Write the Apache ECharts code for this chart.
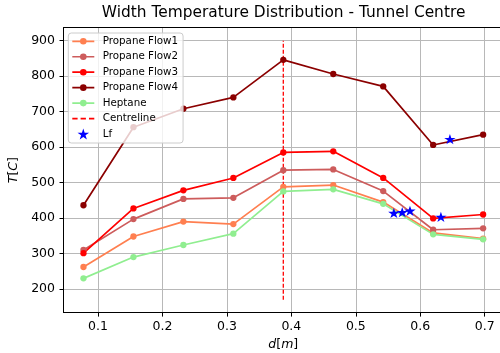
<!DOCTYPE html>
<html>
<head>
<meta charset="utf-8">
<script src="https://cdn.jsdelivr.net/npm/echarts@6/dist/echarts.min.js"></script>
<style>
  html, body { margin: 0; padding: 0; background: #fff; }
  #chart { width: 500px; height: 353px; }
</style>
</head>
<body>
<div id="chart"></div>
<script>
// Measurement positions across the tunnel width [m]
const distance = [0.0775, 0.155, 0.2325, 0.31, 0.3875, 0.465, 0.5425, 0.62, 0.6975];

// Temperatures [C] at each position
const propaneFlow1 = [262, 348, 390, 383, 488, 493, 445, 358, 342];
const propaneFlow2 = [310, 397, 454, 457, 535, 537, 476, 367, 371];
const propaneFlow3 = [301, 427, 478, 513, 585, 588, 513, 399, 410];
const propaneFlow4 = [436, 656, 708, 740, 846, 806, 771, 606, 635];
const heptane      = [230, 290, 324, 356, 475, 481, 440, 354, 340];

// Centreline of the tunnel and its drawn extent
const centreX = 0.3875;
const centreRange = [170, 900];

// Flame length (Lf) positions
const lfX = [0.559, 0.572, 0.584, 0.632, 0.646];
const lfY = [413, 415, 419, 402, 621];

// Tick labels
const xTicks = [0.1, 0.2, 0.3, 0.4, 0.5, 0.6, 0.7];
const yTicks = [200, 300, 400, 500, 600, 700, 800, 900];

const FONT = 'DejaVu Sans';

// Five-pointed star shape for the Lf markers
function starPath() {
  let d = '';
  for (let i = 0; i < 10; i++) {
    const r = i % 2 === 0 ? 10 : 3.8197;
    const a = -Math.PI / 2 + i * Math.PI / 5;
    d += (i ? 'L' : 'M') + (r * Math.cos(a)).toFixed(3) + ',' + (r * Math.sin(a)).toFixed(3) + ' ';
  }
  return 'path://' + d + 'Z';
}
const STAR = starPath();
const LINE_MARKER_ICON = 'path://M0,2.45h22v1.7h-22z M11,0a3.3,3.3 0 1,1 0,6.6a3.3,3.3 0 1,1 0,-6.6z';
const DASH_ICON = 'path://M0,0h5.3v1.7h-5.3z M8.3,0h5.3v1.7h-5.3z M16.7,0h5.3v1.7h-5.3z';

function pairs(xs, ys) { return xs.map((x, i) => [x, ys[i]]); }

function lineSeries(name, values, color) {
  return {
    name, type: 'line', data: pairs(distance, values),
    symbol: 'circle', symbolSize: 6.3, showSymbol: true,
    itemStyle: { color: color, borderWidth: 0 },
    lineStyle: { color: color, width: 1.7 },
    emphasis: { disabled: true }, silent: true, animation: false
  };
}

const chart = echarts.init(document.getElementById('chart'), null, { renderer: 'canvas' });

const axisCommon = {
  axisLine: { show: true, lineStyle: { color: '#000', width: 1 } },
  axisTick: { show: true, inside: false, length: 4, lineStyle: { color: '#000', width: 1 } },
  splitLine: { show: true, lineStyle: { color: '#b8b8b8', width: 1 } }
};

chart.setOption({
  animation: false,
  backgroundColor: '#fff',
  grid: { left: 63.5, top: 27.7, width: 439.6, height: 284.9, containLabel: false, outerBoundsMode: 'none' },
  graphic: [{
    type: 'text', x: 283.6, y: 13, silent: true,
    style: { text: 'Width Temperature Distribution - Tunnel Centre', fontFamily: FONT, fontSize: 15.4,
             fill: '#000', align: 'center', verticalAlign: 'middle' }
  }],
  xAxis: [{
    type: 'value', min: 0.0465, max: 0.7285, position: 'bottom',
    ...axisCommon,
    axisTick: { ...axisCommon.axisTick, customValues: xTicks },
    axisLabel: { customValues: xTicks, formatter: v => v.toFixed(1), color: '#000', fontFamily: FONT, fontSize: 12.5, margin: 8 },
    name: '{i|d}{n|[}{i|m}{n|]}', nameLocation: 'middle', nameGap: 23,
    nameTextStyle: {
      rich: {
        i: { fontFamily: FONT, fontStyle: 'italic', fontSize: 12.5, color: '#000' },
        n: { fontFamily: FONT, fontSize: 12.5, color: '#000' }
      }
    }
  }, {
    type: 'value', min: 0.0465, max: 0.7285, position: 'top',
    axisLine: { show: true, onZero: false, lineStyle: { color: '#000', width: 1 } },
    axisTick: { show: false }, axisLabel: { show: false }, splitLine: { show: false }
  }],
  yAxis: {
    type: 'value', min: 133.5, max: 936.5,
    ...axisCommon,
    axisTick: { ...axisCommon.axisTick, customValues: yTicks },
    axisLabel: { customValues: yTicks, color: '#000', fontFamily: FONT, fontSize: 12.5, margin: 8.5 },
    name: '{i|T}{n|[}{i|C}{n|]}', nameLocation: 'middle', nameGap: 41, nameRotate: 90,
    nameTextStyle: {
      rich: {
        i: { fontFamily: FONT, fontStyle: 'italic', fontSize: 12.5, color: '#000' },
        n: { fontFamily: FONT, fontSize: 12.5, color: '#000' }
      }
    }
  },
  legend: {
    orient: 'vertical', left: 68.3, top: 33,
    padding: [2.3, 5, 3, 4],
    itemWidth: 22, itemHeight: 11, itemGap: 3.45,
    selectedMode: false,
    backgroundColor: 'rgba(255,255,255,0.8)',
    borderColor: '#cccccc', borderWidth: 1, borderRadius: 3,
    itemStyle: { borderWidth: 0 },
    textStyle: { fontFamily: FONT, fontSize: 10.3, lineHeight: 12, color: '#000', padding: [0, 0, 0, 3.4] },
    data: [
      { name: 'Propane Flow1', icon: LINE_MARKER_ICON },
      { name: 'Propane Flow2', icon: LINE_MARKER_ICON },
      { name: 'Propane Flow3', icon: LINE_MARKER_ICON },
      { name: 'Propane Flow4', icon: LINE_MARKER_ICON },
      { name: 'Heptane', icon: LINE_MARKER_ICON },
      { name: 'Centreline', icon: DASH_ICON },
      { name: 'Lf', icon: STAR }
    ]
  },
  series: [
    lineSeries('Propane Flow1', propaneFlow1, '#ff7f50'),
    lineSeries('Propane Flow2', propaneFlow2, '#cd5c5c'),
    lineSeries('Propane Flow3', propaneFlow3, '#ff0000'),
    lineSeries('Propane Flow4', propaneFlow4, '#8b0000'),
    lineSeries('Heptane', heptane, '#90ee90'),
    {
      name: 'Centreline', type: 'line',
      data: [[centreX, centreRange[0]], [centreX, centreRange[1]]],
      showSymbol: false, symbol: 'none',
      itemStyle: { color: '#ff0000' },
      lineStyle: { color: '#ff0000', width: 1.3, type: [4, 2] },
      emphasis: { disabled: true }, silent: true, animation: false
    },
    {
      name: 'Lf', type: 'scatter', data: pairs(lfX, lfY),
      symbol: STAR, symbolSize: [11.4, 10.8], symbolKeepAspect: true, symbolOffset: [0, -0.5],
      itemStyle: { color: '#0000ff', borderWidth: 0, opacity: 1 },
      emphasis: { disabled: true }, silent: true, animation: false, z: 3
    }
  ]
});
</script>
</body>
</html>
